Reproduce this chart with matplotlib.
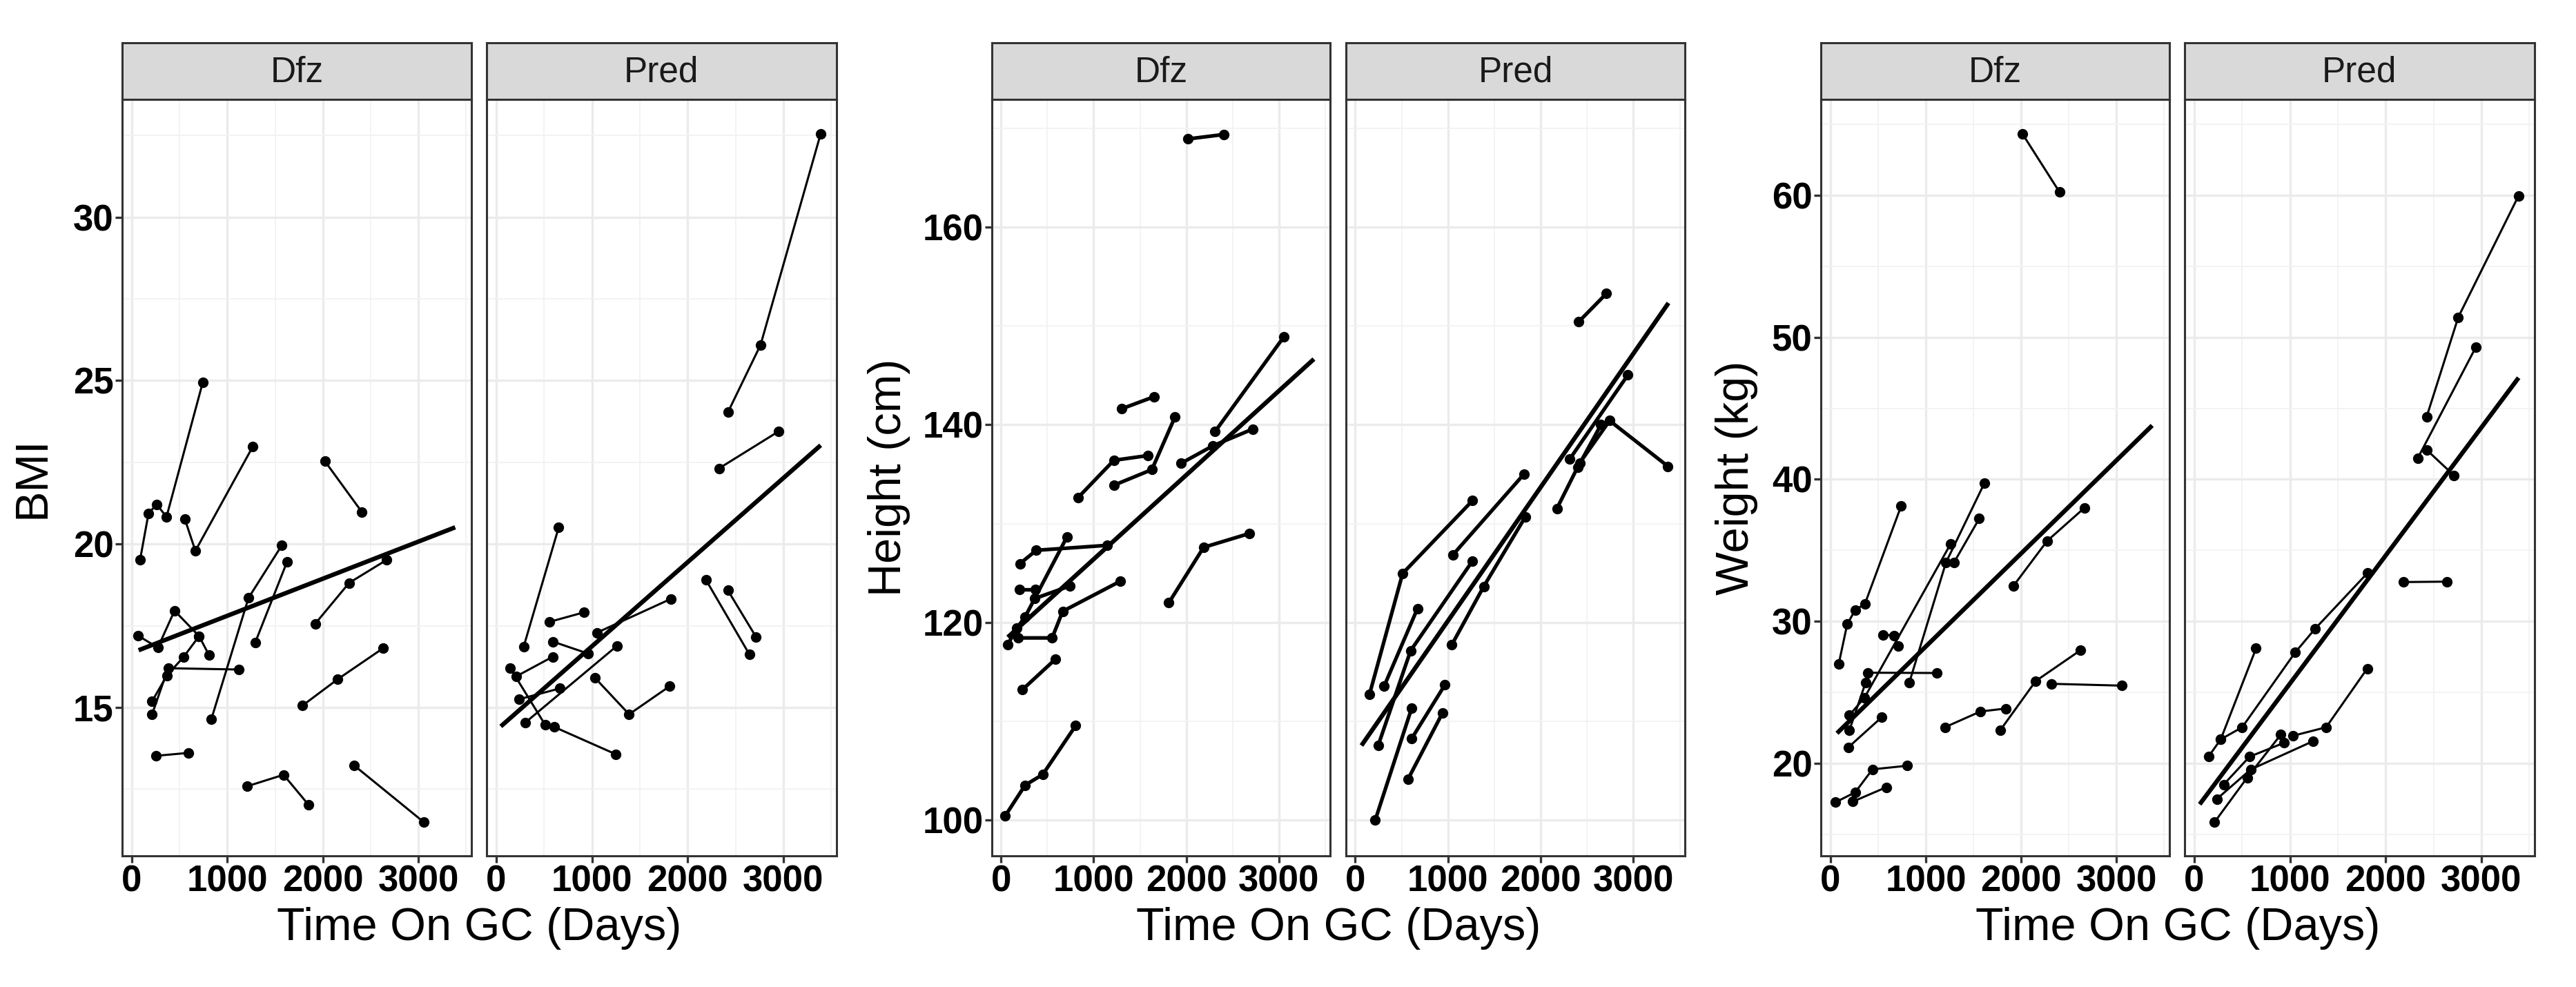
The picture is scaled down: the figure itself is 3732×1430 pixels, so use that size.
import matplotlib
matplotlib.use("Agg")
import matplotlib.pyplot as plt
from matplotlib.ticker import MultipleLocator

plt.rcParams["font.family"] = ["Liberation Sans", "DejaVu Sans"]

# ---- data (one inner list per subject) ----
bmi_dfz_days = [[87, 176, 261, 364, 743], [555, 666, 1267], [2022, 2408],
                [833, 1222, 1571], [1293, 1626], [1920, 2275, 2666],
                [1788, 2154, 2630], [253, 593], [1209, 1589, 1848],
                [2326, 3057], [64, 273, 448, 705, 809], [213, 369, 544, 705],
                [213, 381, 1121]]
bmi_dfz_vals = [[19.51, 20.94, 21.21, 20.83, 24.94], [20.77, 19.79, 22.98], [22.53, 20.98],
                [14.64, 18.35, 19.96], [16.99, 19.46], [17.56, 18.81, 19.51],
                [15.06, 15.86, 16.81], [13.52, 13.61], [12.59, 12.94, 12.03],
                [13.23, 11.49], [17.20, 16.83, 17.96, 17.18, 16.60], [15.19, 15.98, 16.55, 17.18],
                [14.79, 16.20, 16.16]]
bmi_pred_days = [[2420, 2761, 3389], [2326, 2947], [2191, 2645], [2420, 2713],
                 [286, 652], [559, 918], [595, 958], [1054, 1824], [209, 590],
                 [148, 511, 608, 1248], [238, 663], [305, 1260], [1030, 1388, 1812]]
bmi_pred_vals = [[24.03, 26.09, 32.55], [22.31, 23.44], [18.90, 16.62], [18.58, 17.16],
                 [16.85, 20.50], [17.62, 17.91], [17.01, 16.65], [17.29, 18.32], [15.95, 16.55],
                 [16.20, 14.47, 14.40, 13.57], [15.25, 15.58], [14.54, 16.88], [15.91, 14.79, 15.65]]

ht_dfz_days = [[2019, 2406], [830, 1218, 1584], [1223, 1629, 1878], [1305, 1655],
               [2311, 3053], [1947, 2289, 2721], [1812, 2188, 2683], [203, 380, 1142],
               [69, 170, 259, 711], [195, 373], [360, 741], [183, 551, 665, 1287],
               [228, 589], [43, 259, 449, 805]]
ht_dfz_vals = [[168.9, 169.35], [132.62, 136.40, 136.88], [133.90, 135.46, 140.77], [141.62, 142.84],
               [139.3, 148.86], [136.11, 137.87, 139.57], [121.99, 127.6, 129.0], [125.95, 127.3, 127.8],
               [117.73, 119.43, 120.57, 128.65], [123.35, 123.35], [122.41, 123.69],
               [118.44, 118.44, 121.13, 124.17], [113.19, 116.31], [100.43, 103.55, 104.62, 109.56]]
ht_pred_days = [[2412, 2709], [153, 511, 1264], [1054, 1820], [313, 671],
                [247, 597, 1264], [1042, 1386, 1832], [215, 609], [609, 968],
                [567, 942], [2175, 2422, 2743, 3371], [2311, 2940], [2400, 2650]]
ht_pred_vals = [[150.43, 153.27], [112.71, 124.96, 132.32], [126.85, 135.01], [113.6, 121.41],
                [107.56, 117.15, 126.22], [117.76, 123.65, 130.65], [100.0, 111.36], [108.27, 113.71],
                [104.12, 110.87], [131.53, 136.15, 140.41, 135.8], [136.5, 145.03], [135.7, 140.0]]

wt_dfz_days = [[87, 176, 260, 361, 742], [2016, 2402], [1918, 2272, 2665], [1783, 2152, 2622],
               [2316, 3055], [1200, 1573, 1839], [188, 537], [55, 260, 441, 802], [236, 586],
               [200, 369, 393, 1116], [200, 357, 1260], [555, 665, 713], [827, 1212, 1614],
               [1296, 1561]]
wt_dfz_vals = [[27.0, 29.8, 30.81, 31.22, 38.13], [64.29, 60.22], [32.49, 35.66, 38.0],
               [22.36, 25.8, 27.97], [25.61, 25.48], [22.55, 23.66, 23.87], [21.14, 23.25],
               [17.28, 17.97, 19.59, 19.84], [17.32, 18.33], [22.36, 25.69, 26.39, 26.37],
               [23.41, 24.63, 35.45], [29.06, 29.02, 28.29], [25.69, 34.15, 39.72], [34.15, 37.24]]
wt_pred_days = [[2428, 2758, 3388], [2335, 2943], [2428, 2711], [2188, 2639],
                [149, 277, 646], [277, 501, 1055, 1265, 1812], [212, 554, 904],
                [236, 590, 1241], [308, 578, 940], [1031, 1378, 1807]]
wt_pred_vals = [[44.41, 51.41, 59.96], [41.49, 49.32], [42.07, 40.29], [32.77, 32.80],
                [20.48, 21.70, 28.10], [21.70, 22.55, 27.82, 29.50, 33.42], [15.87, 19.01, 22.03],
                [17.50, 19.58, 21.57], [18.52, 20.48, 21.46], [21.95, 22.55, 26.68]]

# linear fit lines, end points
bmi_fit_days = {"Dfz": [72, 3385], "Pred": [48, 3389]}
bmi_fit_vals = {"Dfz": [16.75, 20.51], "Pred": [14.42, 23.02]}
ht_fit_days = {"Dfz": [72, 3380], "Pred": [67, 3378]}
ht_fit_vals = {"Dfz": [118.51, 146.64], "Pred": [107.56, 152.31]}
wt_fit_days = {"Dfz": [69, 3374], "Pred": [57, 3388]}
wt_fit_vals = {"Dfz": [22.13, 43.79], "Pred": [17.13, 47.15]}

groups = ["Dfz", "Pred"]

# ---- layout (pixels) ----
W, H = 3732, 1430
fig = plt.figure(figsize=(W / 100, H / 100), dpi=100)
fig.patch.set_facecolor("white")

STRIP_TOP, PANEL_TOP, PANEL_BOT = 62, 144, 1240
GREY20 = "#333333"


def px_axes(x0, x1, y0, y1):
    return fig.add_axes([x0 / W, 1 - y1 / H, (x1 - x0) / W, (y1 - y0) / H])


plots = [
    dict(label="BMI", lab_x=48, ylim=(10.46, 33.6), major=5, minor=2.5,
         facets=[(177, 683), (705, 1212)],
         days={"Dfz": bmi_dfz_days, "Pred": bmi_pred_days},
         vals={"Dfz": bmi_dfz_vals, "Pred": bmi_pred_vals},
         fit_d=bmi_fit_days, fit_v=bmi_fit_vals, lw=2.2),
    dict(label="Height (cm)", lab_x=1288, ylim=(96.4, 172.9), major=20, minor=10,
         facets=[(1437, 1927), (1950, 2441)],
         days={"Dfz": ht_dfz_days, "Pred": ht_pred_days},
         vals={"Dfz": ht_dfz_vals, "Pred": ht_pred_vals},
         fit_d=ht_fit_days, fit_v=ht_fit_vals, lw=3.8),
    dict(label="Weight (kg)", lab_x=2516, ylim=(13.5, 66.74), major=10, minor=5,
         facets=[(2638, 3143), (3165, 3672)],
         days={"Dfz": wt_dfz_days, "Pred": wt_pred_days},
         vals={"Dfz": wt_dfz_vals, "Pred": wt_pred_vals},
         fit_d=wt_fit_days, fit_v=wt_fit_vals, lw=2.2),
]

for p in plots:
    for k, (g, (x0, x1)) in enumerate(zip(groups, p["facets"])):
        ax = px_axes(x0, x1, PANEL_TOP, PANEL_BOT)
        for d, v in zip(p["days"][g], p["vals"][g]):
            ax.plot(d, v, color="black", lw=p["lw"], marker="o", ms=10,
                    solid_capstyle="butt", zorder=3)
        ax.plot(p["fit_d"][g], p["fit_v"][g], color="black", lw=4.6,
                solid_capstyle="butt", zorder=4)
        ax.set_xlim(-100, 3555)
        ax.set_ylim(*p["ylim"])
        ax.xaxis.set_major_locator(MultipleLocator(1000))
        ax.xaxis.set_minor_locator(MultipleLocator(500))
        ax.yaxis.set_major_locator(MultipleLocator(p["major"]))
        ax.yaxis.set_minor_locator(MultipleLocator(p["minor"]))
        ax.grid(which="major", color="#EBEBEB", lw=2.4, zorder=0)
        ax.grid(which="minor", color="#F2F2F2", lw=1.3, zorder=0)
        ax.set_axisbelow(True)
        for s in ax.spines.values():
            s.set_color(GREY20)
            s.set_linewidth(2.2)
        ax.tick_params(which="major", length=7.5, width=2.4, color=GREY20,
                       labelsize=38, pad=1.5, labelcolor="black")
        ax.tick_params(which="minor", length=0)
        if k == 1:
            ax.tick_params(axis="y", which="both", left=False, labelleft=False)
        for t in ax.get_xticklabels() + ax.get_yticklabels():
            t.set_fontweight("bold")

        sx = px_axes(x0, x1, STRIP_TOP, PANEL_TOP)
        sx.set_facecolor("#D9D9D9")
        sx.set_xticks([])
        sx.set_yticks([])
        for s in sx.spines.values():
            s.set_color(GREY20)
            s.set_linewidth(2.2)
        sx.text(0.5, 0.47, g, ha="center", va="center", fontsize=37,
                color="#1A1A1A", transform=sx.transAxes)

    xc = (p["facets"][0][0] + p["facets"][1][1]) / 2
    fig.text(xc / W, 1 - 1345 / H, "Time On GC (Days)", ha="center", va="center",
             fontsize=48)
    fig.text(p["lab_x"] / W, 1 - (PANEL_TOP + PANEL_BOT) / 2 / H, p["label"],
             rotation=90, ha="center", va="center", fontsize=48)

fig.savefig("out.png", dpi=100)
